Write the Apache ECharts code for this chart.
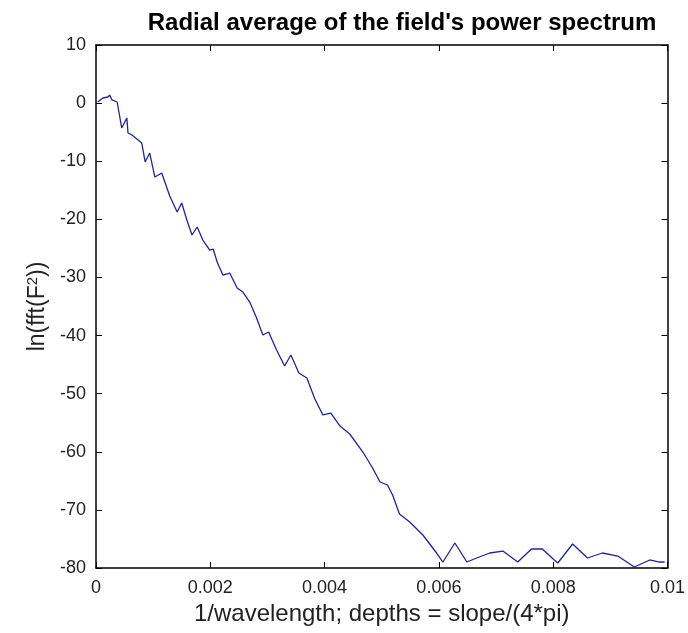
<!DOCTYPE html>
<html>
<head>
<meta charset="utf-8">
<script src="https://cdn.jsdelivr.net/npm/echarts@6/dist/echarts.min.js"></script>
<style>
html,body{margin:0;padding:0;background:#fff;}
#chart{width:688px;height:633px;}
</style>
</head>
<body>
<div id="chart"></div>
<script>
// Data
var xValues = [0.00003,0.00012,0.00021,0.00024,0.00028,0.00037,0.00045,0.00054,0.00056,0.00063,
  0.00080,0.00086,0.00094,0.00103,0.00115,0.00129,0.00142,0.00150,0.00159,0.00168,
  0.00177,0.00187,0.00199,0.00205,0.00212,0.00222,0.00234,0.00247,0.00257,0.00269,
  0.00281,0.00292,0.00302,0.00316,0.00330,0.00341,0.00355,0.00369,0.00383,0.00397,
  0.00411,0.00427,0.00444,0.00467,0.00484,0.00497,0.00510,0.00519,0.00531,0.00549,
  0.00572,0.00596,0.00607,0.00628,0.00649,0.00666,0.00689,0.00712,0.00738,0.00762,
  0.00781,0.00802,0.00808,0.00834,0.00860,0.00886,0.00913,0.00942,0.00969,0.00986,0.00995];
var yValues = [0.19,0.88,1.05,1.40,0.54,0.19,-4.28,-2.56,-5.14,-5.49,
  -6.86,-10.13,-8.59,-12.72,-12.03,-15.98,-18.74,-17.19,-20.12,-22.70,
  -21.32,-23.56,-25.28,-25.11,-27.34,-29.58,-29.24,-31.82,-32.51,-34.23,
  -36.98,-39.91,-39.39,-42.49,-45.24,-43.35,-46.44,-47.30,-50.92,-53.67,
  -53.33,-55.57,-56.94,-60.04,-62.79,-65.20,-65.72,-67.44,-70.71,-72.09,
  -74.32,-77.42,-78.97,-75.70,-78.97,-78.28,-77.42,-77.08,-78.97,-76.73,
  -76.73,-78.62,-79.14,-75.87,-78.28,-77.42,-77.94,-79.83,-78.62,-78.97,-78.97];
var xTicks = [0, 0.002, 0.004, 0.006, 0.008, 0.01];
var yTicks = [-80, -70, -60, -50, -40, -30, -20, -10, 0, 10];

var titleText = "Radial average of the field's power spectrum";
var xName = "1/wavelength; depths = slope/(4*pi)";

var seriesData = xValues.map(function (x, i) { return [x, yValues[i]]; });

var font = "'Liberation Sans', Arial, Helvetica, sans-serif";
var axisCol = '#000';
var labelStyle = { color: '#222', fontSize: 18, fontFamily: font };

var chart = echarts.init(document.getElementById('chart'), null, { renderer: 'canvas' });
chart.setOption({
  animation: false,
  backgroundColor: '#fff',
  title: {
    text: titleText,
    left: 397,
    top: 6,
    textAlign: 'center',
    textStyle: { fontSize: 24, fontWeight: 'bold', color: '#000', fontFamily: font }
  },
  grid: { left: 96, right: 20, top: 45, bottom: 65, containLabel: false },
  xAxis: [{
    type: 'value',
    min: xTicks[0], max: xTicks[xTicks.length - 1], interval: 0.002,
    name: xName, nameLocation: 'middle', nameGap: 27,
    nameTextStyle: { fontSize: 24, color: '#222', fontFamily: font },
    axisLine: { show: true, onZero: false, lineStyle: { color: axisCol, width: 1.5 } },
    axisTick: { show: true, inside: true, length: 6, lineStyle: { color: axisCol } },
    axisLabel: Object.assign({ margin: 11, formatter: function (v) { return v === 0 ? '0' : String(+v.toFixed(3)); } }, labelStyle),
    splitLine: { show: false }
  }, {
    type: 'value', position: 'top',
    min: xTicks[0], max: xTicks[xTicks.length - 1], interval: 0.002,
    axisLine: { show: true, onZero: false, lineStyle: { color: axisCol, width: 1.5 } },
    axisTick: { show: true, inside: true, length: 6, lineStyle: { color: axisCol } },
    axisLabel: { show: false }, splitLine: { show: false }
  }],
  yAxis: [{
    type: 'value',
    min: yTicks[0], max: yTicks[yTicks.length - 1], interval: 10,
    name: 'ln(fft(F{sup|2}))', nameLocation: 'middle', nameGap: 46, nameRotate: 90,
    nameTextStyle: { fontSize: 23, color: '#222', fontFamily: font,
      rich: { sup: { fontSize: 15, verticalAlign: 'top', color: '#222', fontFamily: font, padding: [0, 0, 9, 0] } } },
    axisLine: { show: true, onZero: false, lineStyle: { color: axisCol, width: 1.5 } },
    axisTick: { show: true, inside: true, length: 6, lineStyle: { color: axisCol } },
    axisLabel: Object.assign({ margin: 10 }, labelStyle),
    splitLine: { show: false }
  }, {
    type: 'value', position: 'right',
    min: yTicks[0], max: yTicks[yTicks.length - 1], interval: 10,
    axisLine: { show: true, onZero: false, lineStyle: { color: axisCol, width: 1.5 } },
    axisTick: { show: true, inside: true, length: 6, lineStyle: { color: axisCol } },
    axisLabel: { show: false }, splitLine: { show: false }
  }],
  series: [{
    type: 'line',
    data: seriesData,
    xAxisIndex: 0, yAxisIndex: 0,
    showSymbol: false,
    lineStyle: { color: '#2222a0', width: 1.3 },
    clip: true
  }]
});
</script>
</body>
</html>
